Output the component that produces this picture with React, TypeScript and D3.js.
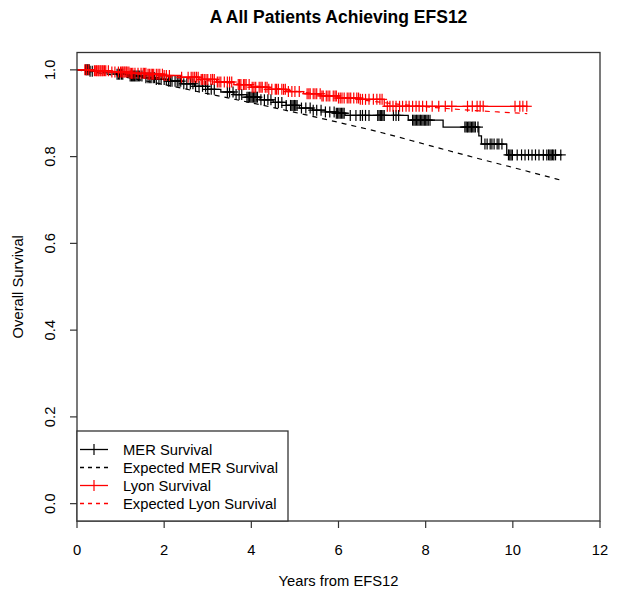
import React from "react";
import * as d3 from "d3";

const TITLE = "A All Patients Achieving EFS12";
const X_LABEL = "Years from EFS12";
const Y_LABEL = "Overall Survival";
const X_TICKS = [0, 2, 4, 6, 8, 10, 12];
const Y_TICKS = [0, 0.2, 0.4, 0.6, 0.8, 1.0];
const Y_TICK_LABELS = ["0.0", "0.2", "0.4", "0.6", "0.8", "1.0"];

// MER Kaplan-Meier steps
const MER_TIMES = [0, 0.3, 0.6, 0.9, 1.2, 1.5, 1.8, 2.1, 2.4, 2.7, 3.0, 3.3, 3.6, 3.9, 4.2, 4.5, 4.8, 5.1, 5.4, 5.7, 5.95, 6.15, 7.6, 8.4, 9.22, 9.28, 9.86];
const MER_SURV = [1, 0.997, 0.993, 0.99, 0.986, 0.982, 0.978, 0.974, 0.968, 0.962, 0.955, 0.949, 0.943, 0.937, 0.931, 0.925, 0.918, 0.912, 0.907, 0.903, 0.9, 0.895, 0.884, 0.868, 0.848, 0.829, 0.804];
const MER_END = 11.13;
const MER_CENSOR = [0.2, 0.23, 0.25, 0.28, 0.3, 0.35, 0.92, 0.95, 0.98, 1.02, 1.05, 1.22, 1.25, 1.27, 1.3, 1.32, 1.35, 1.38, 1.41, 1.44, 1.49, 1.58, 1.63, 1.67, 1.7, 1.75, 1.78, 1.82, 1.88, 1.93, 2.0, 2.05, 2.1, 2.14, 2.18, 2.25, 2.3, 2.34, 2.38, 2.45, 2.52, 2.6, 2.66, 2.72, 2.8, 2.88, 2.95, 3.0, 3.08, 3.15, 3.45, 3.5, 3.58, 3.65, 3.72, 3.78, 3.9, 3.93, 3.96, 3.99, 4.02, 4.05, 4.08, 4.11, 4.14, 4.22, 4.3, 4.38, 4.45, 4.55, 4.62, 4.7, 4.8, 4.9, 4.93, 4.96, 4.99, 5.02, 5.05, 5.15, 5.25, 5.35, 5.42, 5.5, 5.6, 5.7, 5.8, 5.9, 5.95, 5.98, 6.01, 6.04, 6.07, 6.1, 6.13, 6.27, 6.4, 6.5, 6.55, 6.62, 6.7, 6.9, 6.93, 6.96, 6.99, 7.02, 7.05, 7.26, 7.32, 7.38, 7.7, 7.73, 7.76, 7.79, 7.82, 7.85, 7.88, 7.91, 7.94, 7.97, 8.0, 8.03, 8.06, 8.1, 8.9, 8.93, 8.96, 8.99, 9.02, 9.05, 9.08, 9.11, 9.14, 9.2, 9.36, 9.41, 9.48, 9.52, 9.57, 9.64, 9.68, 9.75, 9.9, 9.93, 9.96, 9.99, 10.1, 10.2, 10.28, 10.36, 10.44, 10.52, 10.6, 10.7, 10.78, 10.82, 10.85, 10.88, 10.91, 10.94, 10.98, 11.1];

// Expected MER survival
const EXP_MER_TIMES = [0, 1, 2, 3, 4, 5, 6, 7, 8, 9, 10, 11.13];
const EXP_MER_SURV = [1, 0.985, 0.966, 0.945, 0.924, 0.902, 0.879, 0.855, 0.828, 0.801, 0.775, 0.745];

// Lyon Kaplan-Meier steps
const LYON_TIMES = [0, 0.4, 0.8, 1.2, 1.6, 2.0, 2.4, 2.8, 3.2, 3.6, 4.0, 4.4, 4.8, 5.2, 5.6, 6.0, 6.5, 7.05];
const LYON_SURV = [1, 0.998, 0.995, 0.992, 0.99, 0.987, 0.983, 0.978, 0.972, 0.966, 0.96, 0.955, 0.95, 0.945, 0.94, 0.935, 0.932, 0.916];
const LYON_END = 10.33;
const LYON_CENSOR = [0.18, 0.22, 0.27, 0.4, 0.43, 0.45, 0.48, 0.5, 0.53, 0.55, 0.58, 0.6, 0.63, 0.66, 0.72, 0.8, 0.87, 0.95, 1.0, 1.03, 1.05, 1.08, 1.1, 1.13, 1.15, 1.19, 1.22, 1.25, 1.28, 1.33, 1.4, 1.47, 1.52, 1.55, 1.58, 1.63, 1.66, 1.7, 1.73, 1.76, 1.82, 1.86, 1.9, 1.96, 2.0, 2.05, 2.12, 2.4, 2.55, 2.62, 2.66, 2.7, 2.74, 2.78, 2.85, 2.88, 2.92, 2.96, 3.0, 3.07, 3.11, 3.15, 3.22, 3.26, 3.3, 3.38, 3.45, 3.5, 3.55, 3.7, 3.73, 3.76, 3.82, 3.85, 3.88, 3.95, 4.02, 4.06, 4.1, 4.18, 4.22, 4.25, 4.32, 4.36, 4.4, 4.47, 4.55, 4.58, 4.62, 4.7, 4.74, 4.78, 4.85, 4.93, 5.0, 5.1, 5.28, 5.32, 5.35, 5.42, 5.46, 5.5, 5.58, 5.62, 5.65, 5.72, 5.76, 5.8, 5.88, 5.92, 5.95, 6.0, 6.04, 6.08, 6.13, 6.2, 6.24, 6.28, 6.35, 6.42, 6.46, 6.5, 6.55, 6.62, 6.7, 6.8, 6.88, 6.95, 7.0, 7.12, 7.18, 7.25, 7.32, 7.4, 7.47, 7.55, 7.62, 7.7, 7.78, 7.85, 7.93, 8.02, 8.15, 8.3, 8.45, 8.6, 8.96, 9.07, 9.18, 9.25, 9.32, 10.05, 10.16, 10.23, 10.32];

// Expected Lyon survival
const EXP_LYON_TIMES = [0, 1, 2, 3, 4, 5, 6, 7, 8, 9, 10, 10.33];
const EXP_LYON_SURV = [1, 0.993, 0.985, 0.975, 0.964, 0.951, 0.938, 0.925, 0.915, 0.907, 0.901, 0.899];

const LEGEND_LABELS = ["MER Survival", "Expected MER Survival", "Lyon Survival", "Expected Lyon Survival"];
const LEGEND_COLORS = ["#000000", "#000000", "#ff0000", "#ff0000"];
const LEGEND_DASHED = [false, true, false, true];
const LEGEND_CROSS = [true, false, true, false];

const W = 619;
const H = 599;
const FONT = "'Liberation Sans', Arial, Helvetica, sans-serif";
const FS = 14.75;

const x = d3.scaleLinear().domain([0, 12]).range([77, 600]);
const y = d3.scaleLinear().domain([-0.04, 1.04]).range([521, 52.5]);

function stepPath(times: number[], surv: number[], end: number) {
  const pts: [number, number][] = times.map((t, i) => [t, surv[i]]);
  pts.push([end, surv[surv.length - 1]]);
  return d3
    .line<[number, number]>()
    .x((d) => x(d[0]))
    .y((d) => y(d[1]))
    .curve(d3.curveStepAfter)(pts) as string;
}

function smoothPath(times: number[], surv: number[]) {
  const pts: [number, number][] = times.map((t, i) => [t, surv[i]]);
  return d3
    .line<[number, number]>()
    .x((d) => x(d[0]))
    .y((d) => y(d[1]))
    .curve(d3.curveMonotoneX)(pts) as string;
}

function survAt(times: number[], surv: number[], t: number) {
  const i = d3.bisectRight(times, t) - 1;
  return surv[Math.max(0, i)];
}

function Censor({ times, surv, marks, color }: { times: number[]; surv: number[]; marks: number[]; color: string }) {
  return (
    <g stroke={color} strokeWidth={1.2}>
      {marks.map((t, i) => {
        const cx = x(t);
        const cy = y(survAt(times, surv, t));
        return (
          <g key={i}>
            <line x1={cx} x2={cx} y1={cy - 5.5} y2={cy + 5.5} />
            <line x1={cx - 5} x2={cx + 5} y1={cy} y2={cy} />
          </g>
        );
      })}
    </g>
  );
}

export default function App() {
  const [x0, x1] = x.range();
  const [yb, yt] = y.range();
  const legendTop = 431;
  const legendRight = 288;
  const rowY = [449.5, 467.5, 485.5, 503.5];
  return (
    <svg
      width={W}
      height={H}
      viewBox={`0 0 ${W} ${H}`}
      style={{ position: "fixed", left: 0, top: 0, background: "#fff" }}
      fontFamily={FONT}
    >
      <rect x={0} y={0} width={W} height={H} fill="#fff" />
      <text x={(x0 + x1) / 2} y={22.5} textAnchor="middle" fontWeight="bold" fontSize={17.5}>
        {TITLE}
      </text>

      {/* curves */}
      <path d={stepPath(MER_TIMES, MER_SURV, MER_END)} fill="none" stroke="#000" strokeWidth={1.3} />
      <Censor times={MER_TIMES} surv={MER_SURV} marks={MER_CENSOR} color="#000" />
      <path d={smoothPath(EXP_MER_TIMES, EXP_MER_SURV)} fill="none" stroke="#000" strokeWidth={1.2} strokeDasharray="5,5" />
      <path d={stepPath(LYON_TIMES, LYON_SURV, LYON_END)} fill="none" stroke="#ff0000" strokeWidth={1.3} />
      <Censor times={LYON_TIMES} surv={LYON_SURV} marks={LYON_CENSOR} color="#ff0000" />
      <path d={smoothPath(EXP_LYON_TIMES, EXP_LYON_SURV)} fill="none" stroke="#ff0000" strokeWidth={1.2} strokeDasharray="5,5" />

      {/* plot box */}
      <rect x={x0} y={yt} width={x1 - x0} height={yb - yt} fill="none" stroke="#333" strokeWidth={1.3} />

      {/* x axis */}
      <g stroke="#333" strokeWidth={1.2}>
        {X_TICKS.map((t) => (
          <line key={t} x1={x(t)} x2={x(t)} y1={yb} y2={yb + 7} />
        ))}
      </g>
      <g fontSize={FS} textAnchor="middle" fill="#000">
        {X_TICKS.map((t) => (
          <text key={t} x={x(t)} y={555}>
            {String(t)}
          </text>
        ))}
      </g>
      <text x={(x0 + x1) / 2} y={585.5} textAnchor="middle" fontSize={FS}>
        {X_LABEL}
      </text>

      {/* y axis */}
      <g stroke="#333" strokeWidth={1.2}>
        {Y_TICKS.map((v) => (
          <line key={v} x1={x0} x2={x0 - 7} y1={y(v)} y2={y(v)} />
        ))}
      </g>
      <g fontSize={FS} textAnchor="middle" fill="#000">
        {Y_TICKS.map((v, i) => (
          <text key={v} transform={`translate(55,${y(v)}) rotate(-90)`}>
            {Y_TICK_LABELS[i]}
          </text>
        ))}
      </g>
      <text transform={`translate(23,${(yb + yt) / 2}) rotate(-90)`} textAnchor="middle" fontSize={FS}>
        {Y_LABEL}
      </text>

      {/* legend */}
      <rect x={x0} y={legendTop} width={legendRight - x0} height={yb - legendTop} fill="#fff" stroke="#333" strokeWidth={1.3} />
      {LEGEND_LABELS.map((lab, i) => (
        <g key={lab}>
          <line
            x1={80}
            x2={108}
            y1={rowY[i]}
            y2={rowY[i]}
            stroke={LEGEND_COLORS[i]}
            strokeWidth={1.3}
            strokeDasharray={LEGEND_DASHED[i] ? "4,4" : undefined}
          />
          {LEGEND_CROSS[i] && (
            <line x1={94} x2={94} y1={rowY[i] - 5.5} y2={rowY[i] + 5.5} stroke={LEGEND_COLORS[i]} strokeWidth={1.2} />
          )}
          <text x={123} y={rowY[i] + 5.2} fontSize={FS} fill="#000">
            {lab}
          </text>
        </g>
      ))}
    </svg>
  );
}
